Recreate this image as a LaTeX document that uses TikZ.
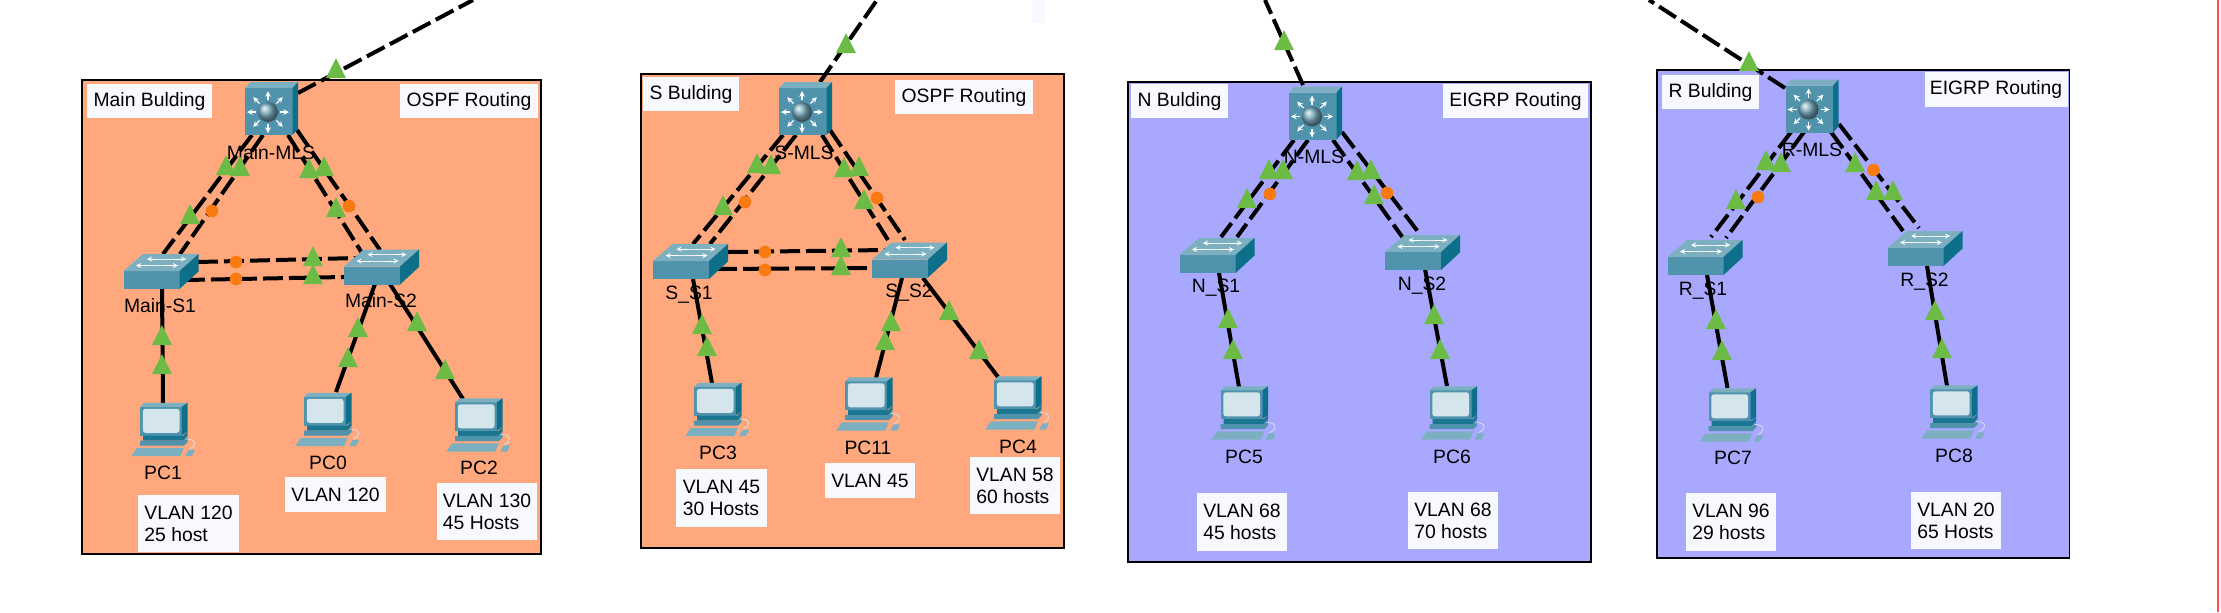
\documentclass[tikz,border=0pt]{standalone}
\usepackage{fontspec}
\setmainfont{Liberation Sans}
\usetikzlibrary{backgrounds,shapes.geometric}
\definecolor{ospffill}{HTML}{FFA87E}
\definecolor{eigrpfill}{HTML}{A8A8FF}
\definecolor{notefill}{HTML}{F7F9FF}
\definecolor{upgreen}{HTML}{6CBB45}
\definecolor{downorange}{HTML}{FA7A12}
\definecolor{devfront}{HTML}{4F93AC}
\definecolor{devtop}{HTML}{7CB0C1}
\definecolor{devside}{HTML}{0E6F8B}
\definecolor{devscreen}{HTML}{D5E5EC}
\tikzset{
  panel/.style={draw=black,line width=0.9pt},
  device/.style={inner sep=0pt,minimum size=1pt},
  notebox/.style 2 args={fill=notefill,inner sep=0pt,align=left,minimum width=#1*0.75pt,minimum height=#2*0.75pt,
    font=\fontsize{14.5}{16.7}\selectfont},
  devlabel/.style={inner sep=0pt,font=\fontsize{14.5}{16.7}\selectfont},
  trunk/.style={line width=3pt,dash pattern=on 15pt off 4.5pt},
  access/.style={line width=3pt},
  uptri/.style={fill=upgreen,isosceles triangle,isosceles triangle stretches,shape border rotate=90,
    minimum width=15pt,minimum height=15pt,inner sep=0pt},
  downdot/.style={fill=downorange,circle,minimum size=9.5pt,inner sep=0pt},
  mlsicon/.pic={
    \fill[devfront] (-26.5,-20.5) rectangle (21,26.5);
    \fill[devtop] (-26.5,-20.5) -- (-21,-26.5) -- (26.5,-26.5) -- (21,-20.5) -- cycle;
    \fill[devside] (21,-20.5) -- (26.5,-26.5) -- (26.5,20.5) -- (21,26.5) -- cycle;
    \foreach \a in {0,45,...,315}
      \draw[white,line width=0.9pt,-stealth] (-3.5+12*cos \a,3.5+12*sin \a) -- (-3.5+21*cos \a,3.5+21*sin \a);
    \shade[ball color=devfront!75!white] (-3.5,3.5) circle (10);
  },
  switchicon/.pic={
    \fill[devfront] (-37.5,-0.5) rectangle (18.5,17.5);
    \fill[devtop] (-37.5,-0.5) -- (-18,-17.5) -- (37.5,-17.5) -- (18.5,-0.5) -- cycle;
    \fill[devside] (18.5,-0.5) -- (37.5,-17.5) -- (37.5,0) -- (18.5,17.5) -- cycle;
    \draw[white!80!devtop,line width=0.6pt] (-3,-12.5) -- (12,-12.5) (-12,-6) -- (4,-6);
    \draw[white,line width=0.7pt,-stealth] (-3,-12.5) -- (-14,-12.5);
    \draw[white,line width=0.7pt,-stealth] (12,-12.5) -- (25,-12.5);
    \draw[white,line width=0.7pt,-stealth] (-12,-6) -- (-25,-6);
    \draw[white,line width=0.7pt,-stealth] (4,-6) -- (17,-6);
  },
  pcicon/.pic={
    \fill[devfront] (-23.8,-23.2) rectangle (17.8,5.5);
    \fill[devtop] (-23.8,-23.2) -- (-19.8,-27.2) -- (23.5,-27.2) -- (17.8,-23.2) -- cycle;
    \fill[devside] (17.8,-23.2) -- (23.5,-27.2) -- (23.5,1.2) -- (17.8,5.5) -- cycle;
    \fill[devscreen,rounded corners=2pt] (-21.2,-21.2) rectangle (15.5,2.8);
    \fill[devside!80!devfront] (-21,5.5) -- (19.5,5.5) -- (23.5,1.2) -- (23.5,6) -- (19.5,10.5) -- (-21,10.5) -- cycle;
    \fill[devfront] (-23.8,10.5) -- (20,10.5) -- (23.5,7) -- (23.5,12) -- (20,15.5) -- (-23.8,15.5) -- cycle;
    \fill[devtop] (-32.8,26.2) -- (-27.2,17.8) -- (20,17.8) -- (16.2,26.2) -- cycle;
    \fill[devtop] (21.2,26.2) -- (24.5,19.8) -- (31.2,19.8) -- (27.8,26.2) -- cycle;
    \draw[white!70!devtop,line width=0.5pt] (25,19) .. controls (33,16) and (33,9) .. (22,9);
  },
}
\begin{document}
\begin{tikzpicture}[x=0.75pt,y=-0.75pt]
  \useasboundingbox (0,0) rectangle (2221,612);

  % devices of the four buildings
  \foreach \name/\x/\y in {MainMLS/271.5/108.5, SMLS/805.5/108.5, NMLS/1315.5/113, RMLS/1812/106} {
    \node[device] (\name) at (\x,\y) {};
    \pic at (\name) {mlsicon};
  }
  \foreach \name/\x/\y in {MainS1/161/271.5, MainS2/381.5/267, SS1/690.5/261.5, SS2/909.5/260,
                           NS1/1217/255.5, NS2/1422.5/252.5, RS1/1705/257.5, RS2/1925/248.5} {
    \node[device] (\name) at (\x,\y) {};
    \pic at (\name) {switchicon};
  }
  \foreach \name/\x/\y in {PC1/164/430, PC0/328/420, PC2/479/425.5, PC3/718/410, PC11/869/404.5, PC4/1018/403.5,
                           PC5/1244.5/413.5, PC6/1453.5/413.5, PC7/1732.5/415.5, PC8/1954/412.5} {
    \node[device] (\name) at (\x,\y) {};
    \pic at (\name) {pcicon};
  }

  % free ends of the uplinks
  \coordinate (MainUp) at (473,0);
  \coordinate (SUp) at (877,0);
  \coordinate (NUp) at (1265,0);
  \coordinate (RUp) at (1649,0);

  \begin{scope}[on background layer]
    \fill[notefill] (1032,0) rectangle (1045,23);
    \draw[red!70!white,line width=1pt] (2218,0) -- (2218,612);
    \draw[panel,fill=ospffill] (82,80) rectangle (541,554);
    \draw[panel,fill=ospffill] (641,74) rectangle (1064,548);
    \draw[panel,fill=eigrpfill] (1128,82) rectangle (1591,562);
    \draw[panel,fill=eigrpfill] (1657,70) rectangle (2069.5,558);

    % dashed links, as device/offset/device/offset
    \foreach \a/\ax/\ay/\b/\bx/\by in {
        MainMLS/26.5/-15.5/MainUp/0/0, SMLS/14.5/-26.5/SUp/0/0, NMLS/-12.5/-28/NUp/0/0, RMLS/-27/-18/RUp/0/0,
        MainMLS/-19.5/26.5/MainS1/2/-17.5, MainMLS/-8.5/26.5/MainS1/19/-17.5,
        MainMLS/16.5/26.5/MainS2/-19.5/-14, MainMLS/25.5/21.5/MainS2/-1.5/-17,
        MainS1/37/-9.5/MainS2/-24.5/-9, MainS1/24/8.5/MainS2/-37.5/10,
        SMLS/-22.5/26.5/SS1/2.5/-17.5, SMLS/-9.5/26.5/SS1/19.5/-17.5,
        SMLS/16.5/26.5/SS2/-21.5/-20, SMLS/24.5/21.5/SS2/-4.5/-20,
        SS1/37.5/-9.5/SS2/-22.5/-10, SS1/26.5/7.5/SS2/-37.5/8,
        NMLS/-21.5/27/NS1/4/-18.5, NMLS/-7.5/27/NS1/20/-18.5,
        NMLS/17.5/27/NS2/-19.5/-14.5, NMLS/26.5/19/NS2/-3.5/-19.5,
        RMLS/-21/26/RS1/6/-20.5, RMLS/-8/26/RS1/21/-19.5,
        RMLS/19/26/RS2/-22/-17.5, RMLS/27/18/RS2/-6/-20.5} {
      \draw[trunk] ([shift={(\ax,\ay)}]\a.center) -- ([shift={(\bx,\by)}]\b.center);
    }

    % host links
    \foreach \a/\ax/\ay/\b/\bx/\by in {
        MainS1/1/17.5/PC1/-1/-27, MainS2/-6.5/17/PC0/8/-28, MainS2/8.5/17/PC2/-16/-26.5,
        SS1/2.5/17.5/PC3/-6/-27, SS2/-7.5/18/PC11/7/-26.5, SS2/13.5/18/PC4/-20/-26.5,
        NS1/2/17.5/PC5/-5.5/-26.5, NS2/2.5/16.5/PC6/-6.5/-27.5,
        RS1/2/17.5/PC7/-5/-27.5, RS2/2/17.5/PC8/-7/-26.5} {
      \draw[access] ([shift={(\ax,\ay)}]\a.center) -- ([shift={(\bx,\by)}]\b.center);
    }
  \end{scope}

  % device names
  \foreach \name/\x/\y/\txt in {lMainMLS/271/153/Main-MLS, lSMLS/804/153/S-MLS, lNMLS/1314/157/N-MLS, lRMLS/1812/150/R-MLS,
      lMainS1/160/306/Main-S1, lMainS2/381/301/Main-S2, lSS1/689/295/S\_S1, lSS2/909/293/S\_S2,
      lNS1/1216/288/N\_S1, lNS2/1422/286/N\_S2, lRS1/1703/291/R\_S1, lRS2/1924.5/282/R\_S2,
      lPC1/163/473/PC1, lPC0/328/463/PC0, lPC2/479/468/PC2, lPC3/718/453/PC3, lPC11/868/448/PC11,
      lPC4/1018/447/PC4, lPC5/1244/457/PC5, lPC6/1452/457/PC6, lPC7/1733/458/PC7, lPC8/1954/456/PC8} {
    \node[devlabel] (\name) at (\x,\y) {\txt};
  }

  % white notes
  \node[notebox={125}{34}] (mainTitle) at (149.5,101) {Main Bulding};
  \node[notebox={138}{34}] (mainRouting) at (469,101) {OSPF Routing};
  \node[notebox={101}{57}] (noteA) at (188.5,523.5) {VLAN 120\\25 host};
  \node[notebox={101}{35}] (noteB) at (335.5,494.5) {VLAN 120};
  \node[notebox={100}{57}] (noteC) at (487,511.5) {VLAN 130\\45 Hosts};
  \node[notebox={96}{34}] (sTitle) at (691,94) {S Bulding};
  \node[notebox={138}{34}] (sRouting) at (964,97) {OSPF Routing};
  \node[notebox={91}{58}] (noteD) at (721.5,498) {VLAN 45\\30 Hosts};
  \node[notebox={90}{35}] (noteE) at (870,480.5) {VLAN 45};
  \node[notebox={90}{57}] (noteF) at (1015,485.5) {VLAN 58\\60 hosts};
  \node[notebox={97}{34}] (nTitle) at (1179.5,101) {N Bulding};
  \node[notebox={145}{34}] (nRouting) at (1515.5,101) {EIGRP Routing};
  \node[notebox={90}{58}] (noteG) at (1242,522) {VLAN 68\\45 hosts};
  \node[notebox={90}{57}] (noteH) at (1453,520.5) {VLAN 68\\70 hosts};
  \node[notebox={97}{34}] (rTitle) at (1710.5,92) {R Bulding};
  \node[notebox={143}{35}] (rRouting) at (1996,89.5) {EIGRP Routing};
  \node[notebox={90}{58}] (noteI) at (1731,522) {VLAN 96\\29 hosts};
  \node[notebox={90}{57}] (noteJ) at (1956,520.5) {VLAN 20\\65 Hosts};

  % link lights
  \foreach \x/\y [count=\i] in {336/72, 226/169, 240/170, 309/172, 324/170, 190/218, 336/211, 313/260, 313/278,
      162/339, 162/368, 358/331, 348/361, 417/325, 445/373,
      846/47, 757/167, 771/168, 844/171, 859/170, 723/209, 864/203, 841/251, 841/269,
      702/328, 707/350, 891/325, 885/344, 949/314, 979/353,
      1284/44, 1269/173, 1283/173, 1357/174, 1371/173, 1247/202, 1374/198,
      1228/322, 1233/353, 1434/318, 1440/353,
      1749/65, 1766/164, 1781/166, 1855/166, 1876/194, 1893/194, 1736/203,
      1716/323, 1722/354, 1935/314, 1942/352} {
    \node[uptri] (up\i) at (\x,\y) {};
  }
  \foreach \x/\y [count=\i] in {212/211, 349/206, 236/262, 236/279, 745/202, 877/198, 765/252, 765/270,
      1270/194, 1387/193, 1873.5/170, 1758/197} {
    \node[downdot] (down\i) at (\x,\y) {};
  }
\end{tikzpicture}
\end{document}
